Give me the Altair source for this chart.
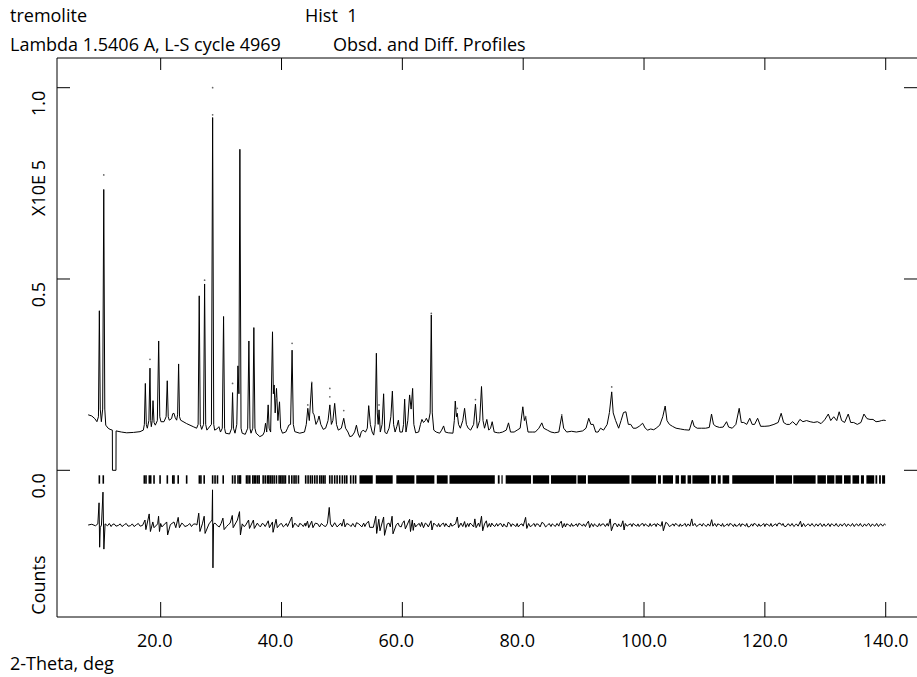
import altair as alt
import pandas as pd

# ---------------- text ----------------
title_1 = "tremolite"
title_2 = "Hist\u00a0\u00a01"
title_3 = "Lambda 1.5406 A, L-S cycle 4969"
title_4 = "Obsd. and Diff. Profiles"
y_title_top = "X10E 5"
y_title_bottom = "Counts"
x_title = "2-Theta, deg"

# ---------------- data (2-theta in deg, intensity in units of 1e5 counts) ----------------
calc_tt = [8.0, 8.6, 9.1, 9.45, 9.7, 9.85, 10.0, 10.18, 10.4, 10.58, 10.75, 10.91, 11.3, 11.62, 12.0, 12.02, 12.6, 12.62,
           13.5, 14.38, 15.5, 16.58, 17.13, 17.3, 17.46, 17.62, 17.79, 18.05, 18.23, 18.35, 18.45, 18.6, 18.73, 18.9,
           19.11, 19.45, 19.67, 19.85, 20.05, 20.55, 20.9, 21.09, 21.25, 21.42, 21.8, 22.0, 22.2, 22.4, 22.64, 22.8,
           22.97, 23.12, 23.3, 24.3, 25.39, 25.95, 26.2, 26.38, 26.55, 26.78, 27.1, 27.27, 27.45, 27.65, 28.4, 28.6,
           28.78, 28.93, 29.3, 29.64, 29.9, 30.2, 30.41, 30.58, 30.74, 31.4, 31.75, 31.9, 32.05, 32.3, 32.6, 32.78,
           32.95, 33.11, 33.3, 33.49, 34.0, 34.4, 34.6, 34.78, 34.95, 35.25, 35.42, 35.6, 35.8, 36.41, 36.9, 37.15,
           37.35, 37.55, 37.79, 37.95, 38.2, 38.51, 38.65, 38.78, 38.95, 39.17, 39.4, 39.67, 39.85, 40.16, 40.7, 41.0,
           41.2, 41.5, 41.75, 41.95, 42.2, 43.02, 43.8, 44.1, 44.35, 44.6, 45.0, 45.2, 45.39, 45.7, 46.0, 46.21, 46.5,
           46.9, 47.3, 47.7, 48.0, 48.25, 48.5, 48.8, 49.1, 49.4, 49.9, 50.3, 50.6, 51.0, 51.3, 51.7, 52.1, 52.4, 52.7,
           52.95, 53.2, 53.5, 53.9, 54.2, 54.43, 54.7, 55.0, 55.26, 55.5, 55.7, 55.85, 56.0, 56.14, 56.35, 56.65, 56.9,
           57.1, 57.4, 57.8, 58.1, 58.35, 58.55, 58.8, 59.1, 59.34, 59.6, 60.0, 60.2, 60.38, 60.6, 60.9, 61.2, 61.45,
           61.7, 61.9, 62.2, 62.7, 63.0, 63.24, 63.5, 63.8, 63.97, 64.3, 64.6, 64.79, 64.95, 65.2, 65.6, 66.17, 66.5,
           66.83, 67.1, 67.6, 68.37, 68.6, 68.76, 68.95, 69.09, 69.3, 69.6, 70.0, 70.3, 70.6, 70.9, 71.3, 71.8, 72.1,
           72.4, 72.8, 73.1, 73.35, 73.6, 73.98, 74.3, 74.6, 74.87, 75.2, 75.8, 76.08, 76.6, 77.2, 77.57, 77.9, 78.5,
           79.0, 79.5, 79.94, 80.2, 80.4, 80.8, 81.5, 82.0, 82.6, 83.08, 83.4, 84.0, 84.6, 85.2, 85.9, 86.38, 86.7,
           87.2, 88.0, 88.8, 89.85, 90.4, 90.85, 91.2, 91.6, 92.0, 92.4, 92.8, 93.3, 93.9, 94.27, 94.65, 94.9, 95.3,
           95.8, 96.2, 96.6, 97.0, 97.4, 97.8, 98.2, 98.67, 99.2, 99.77, 100.2, 100.6, 101.1, 101.6, 102.0, 102.6,
           103.1, 103.5, 103.8, 104.2, 104.7, 105.3, 106.0, 106.7, 107.5, 108.0, 108.3, 108.8, 109.5, 110.2, 110.8,
           111.17, 111.5, 111.9, 112.5, 113.1, 113.66, 114.0, 114.6, 115.2, 115.75, 116.1, 116.5, 117.0, 117.5, 117.9,
           118.3, 118.8, 119.3, 120.0, 120.7, 121.5, 122.2, 122.7, 123.1, 123.6, 124.1, 124.6, 125.2, 125.8, 126.3,
           126.9, 127.5, 128.1, 128.7, 129.3, 129.9, 130.5, 130.9, 131.4, 131.9, 132.3, 132.7, 133.2, 133.8, 134.2,
           134.7, 135.3, 135.9, 136.4, 136.9, 137.4, 137.9, 138.4, 138.9, 139.3, 139.7, 140.0]
calc_int = [0.145, 0.142, 0.135, 0.127, 0.14, 0.417, 0.16, 0.127, 0.16, 0.734, 0.16, 0.118, 0.11, 0.107, 0.105, 0.0, 0.0, 0.103,
            0.1, 0.098, 0.099, 0.101, 0.105, 0.12, 0.227, 0.12, 0.11, 0.13, 0.267, 0.13, 0.114, 0.13, 0.182, 0.125,
            0.118, 0.13, 0.338, 0.14, 0.127, 0.127, 0.14, 0.234, 0.14, 0.131, 0.135, 0.148, 0.149, 0.138, 0.131, 0.145,
            0.278, 0.14, 0.131, 0.122, 0.114, 0.11, 0.12, 0.456, 0.12, 0.107, 0.12, 0.487, 0.12, 0.105, 0.12, 0.922,
            0.12, 0.105, 0.108, 0.114, 0.1, 0.11, 0.402, 0.11, 0.097, 0.095, 0.11, 0.203, 0.11, 0.097, 0.12, 0.273,
            0.2, 0.839, 0.11, 0.097, 0.094, 0.11, 0.338, 0.11, 0.097, 0.11, 0.373, 0.11, 0.097, 0.088, 0.092, 0.1,
            0.123, 0.1, 0.171, 0.11, 0.1, 0.362, 0.2, 0.223, 0.15, 0.214, 0.13, 0.179, 0.11, 0.097, 0.1, 0.11,
            0.118, 0.12, 0.314, 0.12, 0.101, 0.097, 0.1, 0.12, 0.162, 0.13, 0.229, 0.15, 0.145, 0.12, 0.13, 0.142, 0.12,
            0.107, 0.11, 0.13, 0.171, 0.12, 0.13, 0.175, 0.12, 0.105, 0.11, 0.136, 0.11, 0.1, 0.088, 0.09, 0.1, 0.118, 0.095,
            0.086, 0.1, 0.105, 0.1, 0.11, 0.169, 0.12, 0.1, 0.092, 0.12, 0.306, 0.15, 0.12, 0.158, 0.1, 0.12, 0.2,
            0.1, 0.095, 0.11, 0.14, 0.207, 0.12, 0.1, 0.115, 0.131, 0.1, 0.1, 0.12, 0.186, 0.1, 0.13, 0.197, 0.16,
            0.214, 0.12, 0.098, 0.1, 0.12, 0.133, 0.125, 0.13, 0.136, 0.125, 0.15, 0.406, 0.15, 0.105, 0.1, 0.097, 0.105,
            0.116, 0.1, 0.098, 0.097, 0.13, 0.181, 0.14, 0.149, 0.12, 0.11, 0.13, 0.162, 0.12, 0.11, 0.105, 0.12, 0.173,
            0.11, 0.13, 0.219, 0.13, 0.11, 0.133, 0.105, 0.11, 0.127, 0.1, 0.098, 0.098, 0.1, 0.105, 0.124, 0.1, 0.1,
            0.105, 0.11, 0.166, 0.13, 0.14, 0.1, 0.1, 0.1, 0.11, 0.124, 0.11, 0.105, 0.1, 0.098, 0.1, 0.143, 0.11,
            0.1, 0.102, 0.1, 0.103, 0.11, 0.136, 0.12, 0.12, 0.1, 0.1, 0.11, 0.105, 0.12, 0.151, 0.205, 0.15, 0.13,
            0.11, 0.13, 0.151, 0.153, 0.12, 0.12, 0.11, 0.11, 0.115, 0.123, 0.11, 0.105, 0.108, 0.106, 0.11, 0.118,
            0.14, 0.168, 0.13, 0.12, 0.115, 0.11, 0.108, 0.106, 0.105, 0.131, 0.115, 0.11, 0.11, 0.11, 0.112,
            0.147, 0.12, 0.115, 0.112, 0.113, 0.127, 0.113, 0.11, 0.12, 0.162, 0.125, 0.125, 0.12, 0.136, 0.12,
            0.12, 0.136, 0.115, 0.115, 0.116, 0.12, 0.125, 0.149, 0.125, 0.12, 0.12, 0.127, 0.118, 0.133, 0.127,
            0.13, 0.127, 0.125, 0.127, 0.122, 0.132, 0.147, 0.13, 0.14, 0.13, 0.153, 0.13, 0.125, 0.147, 0.125,
            0.125, 0.12, 0.125, 0.147, 0.135, 0.133, 0.133, 0.127, 0.128, 0.13, 0.131, 0.13]

obs_tt = [10.58, 28.6, 28.6, 27.27, 18.23, 31.9, 41.75, 39.17, 44.35, 45.0, 48.0, 48.0, 50.3, 56.14, 64.79, 69.09, 72.1, 80.4, 86.38, 94.65]
obs_int = [0.772, 1.0, 0.929, 0.497, 0.29, 0.227, 0.332, 0.188, 0.171, 0.23, 0.214, 0.192, 0.156, 0.171, 0.41, 0.162, 0.185, 0.14, 0.145, 0.218]

# difference curve: main excursions
diff_tt = [8.0, 8.6, 9.2, 9.6, 9.8, 9.9, 10.0, 10.2, 10.45, 10.6, 10.8, 11.2, 12.0, 13.0, 14.0, 15.0, 16.0, 17.0, 17.4,
           17.55, 18.1, 18.3, 18.7, 18.9, 19.5, 19.65, 19.8, 20.5, 21.0, 21.15, 21.6, 22.2, 22.5, 22.9, 23.1, 23.8,
           24.5, 25.4, 26.0, 26.3, 26.5, 26.9, 27.2, 27.35, 28.0, 28.5, 28.58, 28.65, 28.75, 29.4, 30.3, 30.5, 31.2,
           31.85, 32.0, 32.7, 33.05, 33.2, 33.5, 34.0, 34.55, 34.7, 35.35, 35.5, 36.2, 37.0, 37.8, 38.0, 38.5, 38.6,
           39.1, 39.3, 39.8, 40.5, 41.2, 41.7, 41.85, 42.5, 43.3, 44.3, 44.5, 45.0, 45.2, 46.0, 47.0, 47.9, 48.1, 48.4,
           48.8, 49.5, 50.3, 50.5, 51.2, 52.0, 52.4, 53.0, 54.0, 54.4, 54.6, 55.2, 55.6, 55.75, 56.1, 56.3, 56.9, 57.05,
           57.5, 58.3, 58.45, 59.0, 59.5, 60.3, 60.5, 61.2, 61.35, 61.65, 61.8, 62.5, 63.2, 63.5, 64.0, 64.75, 64.9,
           65.5, 66.5, 67.5, 68.5, 69.1, 69.3, 70.3, 70.5, 71.5, 72.0, 72.2, 73.1, 73.3, 73.9, 74.1, 75.0, 76.0, 77.0,
           77.5, 78.5, 79.5, 80.4, 80.6, 81.5, 82.5, 83.1, 84.0, 85.0, 86.3, 86.5, 87.5, 88.5, 89.5, 90.8, 91.0, 92.0,
           93.0, 94.4, 94.6, 95.0, 96.0, 96.5, 96.7, 97.5, 98.5, 99.5, 100.5, 101.5, 102.5, 103.0, 103.2, 103.6, 104.5,
           105.5, 106.5, 107.9, 108.1, 109.0, 110.0, 111.2, 111.4, 112.5, 113.5, 114.5, 115.5, 116.5, 117.5, 118.5,
           119.5, 120.5, 121.5, 122.5, 123.2, 124.0, 125.0, 125.9, 126.1, 127.0, 128.0, 129.0, 130.0, 131.0, 132.0,
           133.0, 134.0, 135.0, 136.0, 137.0, 138.0, 139.0, 140.0]
diff_int = [-0.143, -0.141, -0.145, -0.14, -0.085, -0.201, -0.15, -0.143, -0.057, -0.206, -0.14, -0.145, -0.142, -0.144,
            -0.142, -0.145, -0.142, -0.144, -0.13, -0.155, -0.114, -0.16, -0.135, -0.15, -0.14, -0.12, -0.16, -0.143,
            -0.135, -0.169, -0.142, -0.135, -0.15, -0.123, -0.15, -0.142, -0.144, -0.141, -0.143, -0.112, -0.16, -0.14,
            -0.12, -0.165, -0.14, -0.13, -0.051, -0.255, -0.14, -0.145, -0.125, -0.155, -0.142, -0.118, -0.15, -0.13,
            -0.108, -0.169, -0.14, -0.145, -0.13, -0.152, -0.13, -0.152, -0.143, -0.14, -0.132, -0.15, -0.135, -0.162,
            -0.128, -0.15, -0.14, -0.145, -0.14, -0.122, -0.15, -0.143, -0.141, -0.133, -0.15, -0.133, -0.15, -0.14,
            -0.145, -0.097, -0.14, -0.148, -0.137, -0.143, -0.128, -0.148, -0.142, -0.145, -0.137, -0.143, -0.14, -0.133,
            -0.149, -0.149, -0.12, -0.165, -0.128, -0.158, -0.122, -0.17, -0.14, -0.12, -0.166, -0.142, -0.146, -0.132,
            -0.153, -0.128, -0.16, -0.13, -0.157, -0.142, -0.136, -0.15, -0.14, -0.132, -0.156, -0.143, -0.141, -0.146,
            -0.143, -0.122, -0.15, -0.134, -0.149, -0.142, -0.127, -0.15, -0.12, -0.158, -0.132, -0.149, -0.143, -0.141,
            -0.145, -0.136, -0.143, -0.142, -0.123, -0.152, -0.143, -0.141, -0.136, -0.144, -0.142, -0.133, -0.15,
            -0.142, -0.144, -0.141, -0.133, -0.15, -0.143, -0.141, -0.127, -0.158, -0.14, -0.145, -0.132, -0.156, -0.142,
            -0.143, -0.141, -0.144, -0.142, -0.143, -0.134, -0.158, -0.136, -0.144, -0.142, -0.143, -0.127, -0.145,
            -0.143, -0.142, -0.129, -0.146, -0.142, -0.144, -0.141, -0.145, -0.142, -0.147, -0.141, -0.144, -0.142,
            -0.143, -0.138, -0.146, -0.141, -0.144, -0.133, -0.148, -0.142, -0.144, -0.141, -0.146, -0.14, -0.145,
            -0.141, -0.144, -0.142, -0.145, -0.141, -0.144, -0.142, -0.143]

# difference curve: small scatter between the excursions, as (2-theta, value) pairs
diff_fuzz = [
    (11.5, -0.139), (11.8, -0.147), (12.3, -0.140), (12.6, -0.146), (13.3, -0.140), (13.6, -0.147), (14.3, -0.139),
    (14.6, -0.146), (15.3, -0.140), (15.6, -0.147), (16.3, -0.139), (16.6, -0.146), (20.0, -0.139), (20.2, -0.148),
    (23.5, -0.138), (24.0, -0.147), (24.8, -0.139), (25.1, -0.147), (25.7, -0.140), (29.0, -0.138), (29.7, -0.148),
    (30.0, -0.139), (30.9, -0.147), (31.5, -0.138), (33.8, -0.147), (36.0, -0.138), (36.5, -0.148), (36.8, -0.139),
    (37.3, -0.147), (40.0, -0.139), (40.3, -0.148), (40.8, -0.139), (41.0, -0.147), (42.2, -0.138), (42.8, -0.148),
    (43.0, -0.139), (43.6, -0.147), (43.9, -0.138), (44.0, -0.146), (45.6, -0.138), (46.3, -0.148), (46.6, -0.139),
    (47.3, -0.147), (47.6, -0.139), (49.2, -0.148), (49.8, -0.138), (50.0, -0.146), (50.8, -0.139), (51.5, -0.147),
    (51.8, -0.139), (52.2, -0.148), (52.7, -0.139), (53.3, -0.148), (53.6, -0.138), (53.8, -0.147), (57.8, -0.138),
    (58.0, -0.148), (59.3, -0.138), (59.8, -0.148), (60.0, -0.139), (62.0, -0.138), (62.2, -0.148), (62.8, -0.139),
    (63.0, -0.147), (63.8, -0.138), (64.3, -0.148), (65.2, -0.138), (65.8, -0.147), (66.0, -0.139), (66.2, -0.148),
    (66.8, -0.138), (67.0, -0.147), (67.2, -0.139), (67.8, -0.148), (68.0, -0.138), (68.2, -0.146), (68.8, -0.140),
    (69.7, -0.138), (70.0, -0.147), (70.8, -0.139), (71.0, -0.147), (71.2, -0.138), (71.8, -0.148), (72.6, -0.138),
    (72.8, -0.147), (73.6, -0.140), (74.4, -0.139), (74.6, -0.148), (74.8, -0.138), (75.3, -0.147), (75.6, -0.139),
    (75.8, -0.146), (76.3, -0.139), (76.6, -0.148), (76.8, -0.140), (77.3, -0.148), (77.8, -0.139), (78.0, -0.147),
    (78.2, -0.140), (78.8, -0.147), (79.0, -0.139), (79.2, -0.148), (79.8, -0.140), (80.0, -0.146), (80.9, -0.139),
    (81.2, -0.148), (81.8, -0.139), (82.0, -0.147), (82.2, -0.140), (82.8, -0.148), (83.4, -0.139), (83.7, -0.148),
    (84.3, -0.139), (84.6, -0.147), (84.8, -0.140), (85.3, -0.147), (85.6, -0.139), (85.9, -0.146), (86.0, -0.140),
    (86.8, -0.139), (87.0, -0.148), (87.2, -0.140), (87.8, -0.147), (88.0, -0.139), (88.2, -0.146), (88.8, -0.140),
    (89.0, -0.147), (89.2, -0.139), (89.8, -0.146), (90.0, -0.140), (90.3, -0.147), (90.5, -0.140), (91.3, -0.139),
    (91.6, -0.147), (91.8, -0.140), (92.3, -0.148), (92.6, -0.139), (92.8, -0.146), (93.3, -0.140), (93.6, -0.147),
    (93.9, -0.139), (94.1, -0.146), (95.3, -0.139), (95.6, -0.148), (95.8, -0.140), (96.2, -0.147), (96.9, -0.139),
    (97.2, -0.146), (97.8, -0.140), (98.0, -0.147), (98.2, -0.139), (98.8, -0.146), (99.0, -0.140), (99.2, -0.147),
    (99.8, -0.139), (100.0, -0.146), (100.2, -0.140), (100.8, -0.147), (101.0, -0.139), (101.2, -0.146),
    (101.8, -0.140), (102.0, -0.147), (102.2, -0.139), (102.8, -0.146), (103.9, -0.139), (104.2, -0.147),
    (104.8, -0.140), (105.0, -0.146), (105.2, -0.139), (105.8, -0.147), (106.0, -0.140), (106.2, -0.146),
    (106.8, -0.139), (107.0, -0.147), (107.3, -0.140), (107.6, -0.146), (108.4, -0.139), (108.7, -0.147),
    (109.3, -0.140), (109.6, -0.146), (109.8, -0.139), (110.3, -0.147), (110.6, -0.140), (110.9, -0.146),
    (111.7, -0.139), (112.0, -0.147), (112.2, -0.140), (112.8, -0.146), (113.0, -0.139), (113.2, -0.147),
    (113.8, -0.140), (114.0, -0.146), (114.2, -0.139), (114.8, -0.147), (115.0, -0.140), (115.2, -0.146),
    (115.8, -0.139), (116.0, -0.147), (116.2, -0.140), (116.8, -0.146), (117.0, -0.139), (117.2, -0.148),
    (117.8, -0.140), (118.0, -0.146), (118.2, -0.139), (118.8, -0.147), (119.0, -0.140), (119.2, -0.146),
    (119.8, -0.139), (120.0, -0.147), (120.2, -0.140), (120.8, -0.146), (121.0, -0.139), (121.2, -0.147),
    (121.8, -0.140), (122.0, -0.146), (122.2, -0.139), (122.8, -0.144), (123.0, -0.139), (123.5, -0.147),
    (123.8, -0.140), (124.2, -0.146), (124.5, -0.139), (124.8, -0.147), (125.2, -0.140), (125.5, -0.146),
    (126.4, -0.139), (126.7, -0.147), (127.2, -0.140), (127.5, -0.146), (127.8, -0.139), (128.2, -0.147),
    (128.5, -0.140), (128.8, -0.146), (129.2, -0.139), (129.5, -0.147), (129.8, -0.140), (130.2, -0.145),
    (130.5, -0.139), (130.8, -0.147), (131.2, -0.141), (131.5, -0.146), (131.8, -0.139), (132.2, -0.147),
    (132.5, -0.140), (132.8, -0.146), (133.2, -0.139), (133.5, -0.147), (133.8, -0.140), (134.2, -0.146),
    (134.5, -0.139), (134.8, -0.147), (135.2, -0.140), (135.5, -0.146), (135.8, -0.139), (136.2, -0.147),
    (136.5, -0.140), (136.8, -0.146), (137.2, -0.139), (137.5, -0.147), (137.8, -0.140), (138.2, -0.146),
    (138.5, -0.139), (138.8, -0.147), (139.2, -0.140), (139.5, -0.146), (139.8, -0.140),
]

# reflection markers: isolated ticks, then runs that merge into solid bands
refl_ticks = [9.85, 10.5, 17.29, 17.57, 18.12, 18.35, 18.9, 19.9, 21.1, 22.0, 22.2, 22.9, 24.3, 26.4, 26.66, 27.2,
              28.6, 29.0, 29.4, 30.35, 31.9, 32.3, 32.8, 33.1, 33.21, 34.2, 34.45, 34.75, 35.25, 35.5, 35.74, 36.05, 36.3,
              36.96, 37.3, 37.67, 37.9, 38.17, 38.45, 38.78, 39.16, 39.6, 39.85, 40.1, 40.4, 40.65, 41.25, 41.7, 42.08,
              42.4, 42.8, 44.0, 44.4, 44.78, 45.1, 45.5, 45.88, 46.32, 46.6, 46.9, 47.2, 47.98, 48.36, 48.8, 49.2, 49.63,
              50.07, 50.46, 50.8, 51.45, 51.9, 52.27]
band_start = [52.9, 55.6, 59.0, 62.3, 65.7, 67.8, 75.8, 76.4, 77.1, 81.6, 84.6, 89.0, 90.7, 97.9, 102.3, 103.1, 105.2,
              106.1, 107.2, 108.0, 111.1, 112.2, 113.0, 114.6, 121.8, 124.7, 128.7, 130.3, 131.7, 133.1, 134.5,
              135.9, 136.8, 138.3, 138.9, 139.4]
band_end = [55.1, 58.4, 62.0, 65.3, 67.5, 75.3, 76.1, 76.6, 81.3, 84.3, 88.8, 90.4, 97.6, 102.0, 102.8, 104.8, 105.8,
            106.9, 107.8, 110.8, 111.9, 112.7, 114.1, 121.5, 124.5, 128.4, 130.1, 131.5, 132.8, 134.2, 135.6,
            136.4, 138.1, 138.6, 139.2, 139.9]
refl_top, refl_bottom = -0.013, -0.035

x_ticks = [20, 40, 60, 80, 100, 120, 140]
y_ticks = [0.0, 0.5, 1.0]

# ---------------- frames ----------------
calc_df = pd.DataFrame({"tt": calc_tt, "v": calc_int})
diff_df = pd.concat([pd.DataFrame({"tt": diff_tt, "v": diff_int}),
                     pd.DataFrame(diff_fuzz, columns=["tt", "v"])]).sort_values("tt").reset_index(drop=True)
obs_df = pd.DataFrame({"tt": obs_tt, "v": obs_int})
refl_df = pd.DataFrame({"tt": refl_ticks, "a": refl_top, "b": refl_bottom})
band_df = pd.DataFrame({"s": band_start, "e": band_end, "a": refl_top, "b": refl_bottom})
xt_df = pd.DataFrame({"v": x_ticks})
yt_df = pd.DataFrame({"v": y_ticks})
one_df = pd.DataFrame({"k": [0]})

W, H = 860, 559
FONT = "Open Sans"
FS = 18
xs = alt.Scale(domain=[2.84, 145.18], nice=False, zero=False)
ys = alt.Scale(domain=[-0.3834, 1.0776], nice=False, zero=False)


def X(f):
    return alt.X(f, type="quantitative", scale=xs, axis=None)


def Y(f):
    return alt.Y(f, type="quantitative", scale=ys, axis=None)


calc_line = alt.Chart(calc_df).mark_line(color="black", strokeWidth=1).encode(x=X("tt"), y=Y("v"))
diff_line = alt.Chart(diff_df).mark_line(color="black", strokeWidth=1).encode(x=X("tt"), y=Y("v"))
obs_pts = alt.Chart(obs_df).mark_circle(color="#666666", size=3, opacity=1).encode(x=X("tt"), y=Y("v"))
refl = alt.Chart(refl_df).mark_rule(color="black", strokeWidth=1.6).encode(
    x=X("tt"), y=Y("a"), y2="b")
bands = alt.Chart(band_df).mark_rect(color="black").encode(
    x=X("s"), x2="e", y=Y("a"), y2="b")

# frame (left, top, bottom)
frame_l = alt.Chart(one_df).mark_rule(color="black", strokeWidth=1).encode(
    x=alt.value(0), y=alt.value(0), y2=alt.value(H))
frame_t = alt.Chart(one_df).mark_rule(color="black", strokeWidth=1).encode(
    x=alt.value(0), x2=alt.value(W + 5), y=alt.value(0))
frame_b = alt.Chart(one_df).mark_rule(color="black", strokeWidth=1).encode(
    x=alt.value(0), x2=alt.value(W + 5), y=alt.value(H))

# inward tick marks
xt_bot = alt.Chart(xt_df).mark_rule(color="black").encode(x=X("v"), y=alt.value(H - 15), y2=alt.value(H))
xt_top = alt.Chart(xt_df).mark_rule(color="black").encode(x=X("v"), y=alt.value(0), y2=alt.value(12))
yt_left = alt.Chart(yt_df).mark_rule(color="black").encode(y=Y("v"), x=alt.value(0), x2=alt.value(13))
yt_right = alt.Chart(yt_df).mark_rule(color="black").encode(y=Y("v"), x=alt.value(W - 13), x2=alt.value(W))

# tick labels
xl_small = alt.Chart(xt_df).transform_filter("datum.v < 100").mark_text(
    font=FONT, fontSize=FS, baseline="alphabetic", align="center", dx=-6, color="black").encode(
    x=X("v"), y=alt.value(H + 30), text=alt.Text("v:Q", format=".1f"))
xl_big = alt.Chart(xt_df).transform_filter("datum.v >= 100").mark_text(
    font=FONT, fontSize=FS, baseline="alphabetic", align="center", color="black").encode(
    x=X("v"), y=alt.value(H + 30), text=alt.Text("v:Q", format=".1f"))
yl = alt.Chart(yt_df).mark_text(
    font=FONT, fontSize=FS, angle=270, align="right", baseline="middle", dx=-3, color="black").encode(
    y=Y("v"), x=alt.value(-17), text=alt.Text("v:Q", format=".1f"))


def label(txt, x, y, angle=0, align="left", baseline="alphabetic"):
    kw = dict(font=FONT, fontSize=FS, align=align, baseline=baseline, color="black")
    if angle:
        kw["angle"] = angle
    return alt.Chart(pd.DataFrame({"t": [txt]})).mark_text(**kw).encode(
        x=alt.value(x), y=alt.value(y), text="t:N")


texts = [
    label(title_1, -47, -36),
    label(title_2, 248, -36),
    label(title_3, -47, -7),
    label(title_4, 276, -7),
    label(y_title_top, -17, 130, angle=270, align="center", baseline="middle"),
    label(y_title_bottom, -17, 527, angle=270, align="center", baseline="middle"),
    label(x_title, -47, H + 53),
]

chart = alt.layer(
    frame_l, frame_t, frame_b, xt_bot, xt_top, yt_left, yt_right,
    bands, refl, diff_line, calc_line, obs_pts,
    xl_small, xl_big, yl, *texts
).properties(
    width=W, height=H,
    padding={"left": 57, "top": 58, "right": 0, "bottom": 60},
    autosize=alt.AutoSizeParams(type="none"),
    background="white",
).configure_view(strokeWidth=0)

chart.save("out.html", embed_options={"renderer": "svg", "actions": False})
